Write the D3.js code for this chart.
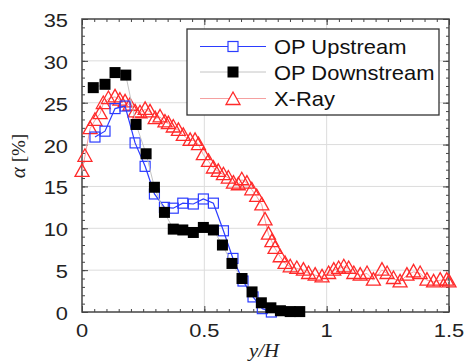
<!DOCTYPE html>
<html>
<head>
<meta charset="utf-8">
<script src="https://cdn.jsdelivr.net/npm/d3@7"></script>
<style>
  body { margin: 0; background: #fff; }
  svg { display: block; }
</style>
</head>
<body>
<div id="chart"></div>
<script>
// OP Upstream (open blue squares)
const upX = [0.053, 0.094, 0.135, 0.176, 0.217, 0.258, 0.296, 0.337, 0.373, 0.412, 0.455, 0.496, 0.537, 0.578, 0.617, 0.658, 0.699, 0.737, 0.774];
const upY = [20.9, 21.6, 24.3, 24.6, 20.2, 17.4, 14.1, 12.5, 12.4, 13.0, 12.9, 13.5, 13.0, 9.7, 6.4, 3.7, 1.8, 0.4, 0.0];

// OP Downstream (filled black squares)
const downX = [0.046, 0.094, 0.135, 0.179, 0.221, 0.262, 0.296, 0.337, 0.373, 0.412, 0.455, 0.496, 0.537, 0.574, 0.613, 0.654, 0.695, 0.733, 0.772, 0.811, 0.851, 0.890];
const downY = [26.8, 27.2, 28.6, 28.3, 22.4, 18.9, 14.9, 11.9, 9.9, 9.8, 9.5, 10.1, 9.8, 8.0, 5.8, 4.0, 2.4, 1.1, 0.5, 0.15, 0.05, 0.05];

// X-Ray (open red triangles)
const rayX = [0.0, 0.012, 0.033, 0.053, 0.074, 0.087, 0.108, 0.135, 0.155, 0.176, 0.196, 0.217, 0.237, 0.258, 0.278, 0.299, 0.319, 0.339, 0.353, 0.373, 0.394, 0.414, 0.442, 0.462, 0.476, 0.496, 0.517, 0.537, 0.557, 0.578, 0.598, 0.619, 0.639, 0.653, 0.674, 0.694, 0.714, 0.735, 0.748, 0.762, 0.776, 0.789, 0.810, 0.830, 0.851, 0.878, 0.905, 0.926, 0.953, 0.981, 1.008, 1.029, 1.049, 1.070, 1.090, 1.111, 1.137, 1.165, 1.191, 1.226, 1.247, 1.273, 1.300, 1.328, 1.355, 1.382, 1.410, 1.437, 1.464, 1.491, 1.5];
const rayY = [16.8, 18.6, 21.9, 22.9, 23.7, 24.9, 25.5, 25.7, 25.3, 25.1, 24.7, 23.9, 23.8, 24.2, 23.9, 23.1, 23.3, 22.7, 22.5, 22.1, 21.7, 21.1, 20.5, 20.5, 20.0, 18.8, 18.0, 17.2, 16.8, 16.4, 16.0, 15.4, 15.2, 15.8, 15.4, 14.6, 13.8, 12.8, 11.0, 9.3, 8.4, 7.6, 6.6, 5.8, 5.4, 5.2, 5.0, 4.6, 4.4, 4.2, 4.6, 5.0, 5.2, 5.4, 5.2, 4.6, 4.4, 4.6, 3.8, 5.0, 4.6, 4.0, 3.6, 4.4, 4.8, 4.6, 3.8, 3.6, 3.8, 3.8, 3.6];

const xTicks = [0, 0.5, 1, 1.5];
const xTickLabels = ["0", "0.5", "1", "1.5"];
const yTicks = [0, 5, 10, 15, 20, 25, 30, 35];
const legendLabels = ["OP Upstream", "OP Downstream", "X-Ray"];

const W = 466, H = 362;
const pLeft = 82, pRight = 449, pTop = 19, pBottom = 312;

const svg = d3.select("#chart").append("svg")
    .attr("width", W)
    .attr("height", H);

const x = d3.scaleLinear().domain([0, 1.5]).range([pLeft, pRight]);
const y = d3.scaleLinear().domain([0, 35]).range([pBottom, pTop]);

// gridlines
svg.append("g").selectAll("line")
    .data(xTicks.slice(1, -1))
    .enter().append("line")
    .attr("x1", d => x(d)).attr("x2", d => x(d))
    .attr("y1", pTop).attr("y2", pBottom)
    .attr("stroke", "#dcdcdc").attr("stroke-width", 1);
svg.append("g").selectAll("line")
    .data(yTicks.slice(1, -1))
    .enter().append("line")
    .attr("x1", pLeft).attr("x2", pRight)
    .attr("y1", d => y(d)).attr("y2", d => y(d))
    .attr("stroke", "#dcdcdc").attr("stroke-width", 1);

// axes with inward ticks on all four sides
const axisColor = "#444";
function styleAxis(g) {
    g.select(".domain").remove();
    g.selectAll("line").attr("stroke", axisColor);
    g.selectAll("text").remove();
}
const xMinor = d3.range(0, 1.5001, 0.05);
const yMinor = d3.range(0, 35.001, 1);
svg.append("g").attr("transform", `translate(0,${pBottom})`)
    .call(d3.axisTop(x).tickValues(xMinor).tickSize(3)).call(styleAxis);
svg.append("g").attr("transform", `translate(0,${pBottom})`)
    .call(d3.axisTop(x).tickValues(xTicks).tickSize(6)).call(styleAxis);
svg.append("g").attr("transform", `translate(0,${pTop})`)
    .call(d3.axisBottom(x).tickValues(xMinor).tickSize(3)).call(styleAxis);
svg.append("g").attr("transform", `translate(0,${pTop})`)
    .call(d3.axisBottom(x).tickValues(xTicks).tickSize(6)).call(styleAxis);
svg.append("g").attr("transform", `translate(${pLeft},0)`)
    .call(d3.axisRight(y).tickValues(yMinor).tickSize(3)).call(styleAxis);
svg.append("g").attr("transform", `translate(${pLeft},0)`)
    .call(d3.axisRight(y).tickValues(yTicks).tickSize(6)).call(styleAxis);
svg.append("g").attr("transform", `translate(${pRight},0)`)
    .call(d3.axisLeft(y).tickValues(yMinor).tickSize(3)).call(styleAxis);
svg.append("g").attr("transform", `translate(${pRight},0)`)
    .call(d3.axisLeft(y).tickValues(yTicks).tickSize(6)).call(styleAxis);

svg.append("rect")
    .attr("x", pLeft).attr("y", pTop)
    .attr("width", pRight - pLeft).attr("height", pBottom - pTop)
    .attr("fill", "none").attr("stroke", axisColor).attr("stroke-width", 1.5);

// tick labels (the source figure's text is slightly stretched sideways)
const tickFont = "'Liberation Sans', Arial, sans-serif";
const stretch = 1.15;
svg.append("g").selectAll("text")
    .data(xTicks)
    .enter().append("text")
    .attr("transform", d => `translate(${x(d)},337) scale(${stretch},1)`)
    .attr("text-anchor", "middle")
    .attr("font-family", tickFont)
    .attr("font-size", "19px")
    .attr("fill", "#222")
    .text((d, i) => xTickLabels[i]);
svg.append("g").selectAll("text")
    .data(yTicks)
    .enter().append("text")
    .attr("transform", d => `translate(68,${y(d) + 8}) scale(${stretch},1)`)
    .attr("text-anchor", "end")
    .attr("font-family", tickFont)
    .attr("font-size", "19px")
    .attr("fill", "#222")
    .text(d => d);

// axis titles
svg.append("text")
    .attr("transform", `translate(264,357) scale(1.1,1)`)
    .attr("text-anchor", "middle")
    .attr("font-family", "'Liberation Serif', 'Times New Roman', serif")
    .attr("font-style", "italic")
    .attr("font-size", "19px")
    .attr("fill", "#222")
    .text("y/H");

const yTitle = svg.append("text")
    .attr("transform", "translate(25,156) rotate(-90)")
    .attr("text-anchor", "middle")
    .attr("font-family", "'Liberation Serif', 'Times New Roman', serif")
    .attr("font-size", "19px")
    .attr("fill", "#222");
yTitle.append("tspan").attr("font-style", "italic").attr("font-size", "21px").text("α");
yTitle.append("tspan").text(" [%]");

// series
const triPath = "M0,-7.5L7,5L-7,5Z";
const rayData = rayX.map((d, i) => ({ x: d, y: rayY[i] }));
const upData = upX.map((d, i) => ({ x: d, y: upY[i] }));
const downData = downX.map((d, i) => ({ x: d, y: downY[i] }));

const line = d3.line()
    .x(d => x(d.x))
    .y(d => y(d.y));

const red = "#ff2a2a", pink = "#f5a0a0";
const blue = "#2b3cff";
const gray = "#c4c4c4";

svg.append("path")
    .datum(rayData)
    .attr("fill", "none")
    .attr("stroke", pink)
    .attr("stroke-width", 1)
    .attr("d", line);
svg.append("g").selectAll("path")
    .data(rayData)
    .enter().append("path")
    .attr("transform", d => `translate(${x(d.x)},${y(d.y)})`)
    .attr("d", triPath)
    .attr("fill", "none")
    .attr("stroke", red)
    .attr("stroke-width", 1.3);

svg.append("path")
    .datum(upData)
    .attr("fill", "none")
    .attr("stroke", blue)
    .attr("stroke-width", 1.2)
    .attr("d", line);
svg.append("g").selectAll("rect")
    .data(upData)
    .enter().append("rect")
    .attr("x", d => x(d.x) - 5)
    .attr("y", d => y(d.y) - 5)
    .attr("width", 10).attr("height", 10)
    .attr("fill", "none")
    .attr("stroke", blue)
    .attr("stroke-width", 1.2);

svg.append("path")
    .datum(downData)
    .attr("fill", "none")
    .attr("stroke", gray)
    .attr("stroke-width", 1)
    .attr("d", line);
svg.append("g").selectAll("rect")
    .data(downData)
    .enter().append("rect")
    .attr("x", d => x(d.x) - 5.5)
    .attr("y", d => y(d.y) - 5.5)
    .attr("width", 11).attr("height", 11)
    .attr("fill", "#000");

// legend
const legend = svg.append("g");
legend.append("rect")
    .attr("x", 187).attr("y", 29)
    .attr("width", 252).attr("height", 86)
    .attr("fill", "#fff")
    .attr("stroke", "#333")
    .attr("stroke-width", 1.3);

const legendRows = [46.5, 72, 98.5];
const legendStyles = [
    { line: blue, kind: "open" },
    { line: gray, kind: "filled" },
    { line: pink, kind: "tri" }
];
legendLabels.forEach((label, i) => {
    const ly = legendRows[i];
    const st = legendStyles[i];
    legend.append("line")
        .attr("x1", 200).attr("x2", 266)
        .attr("y1", ly).attr("y2", ly)
        .attr("stroke", st.line).attr("stroke-width", 1);
    if (st.kind === "open") {
        legend.append("rect")
            .attr("x", 228).attr("y", ly - 5)
            .attr("width", 10).attr("height", 10)
            .attr("fill", "#fff").attr("stroke", blue).attr("stroke-width", 1.2);
    } else if (st.kind === "filled") {
        legend.append("rect")
            .attr("x", 227.5).attr("y", ly - 5.5)
            .attr("width", 11).attr("height", 11)
            .attr("fill", "#000");
    } else {
        legend.append("path")
            .attr("transform", `translate(233,${ly + 1})`)
            .attr("d", triPath)
            .attr("fill", "#fff").attr("stroke", red).attr("stroke-width", 1.3);
    }
    legend.append("text")
        .attr("transform", `translate(274,${ly + 7.5}) scale(1.07,1)`)
        .attr("font-family", tickFont)
        .attr("font-size", "20.5px")
        .attr("fill", "#111")
        .text(label);
});
</script>
</body>
</html>
